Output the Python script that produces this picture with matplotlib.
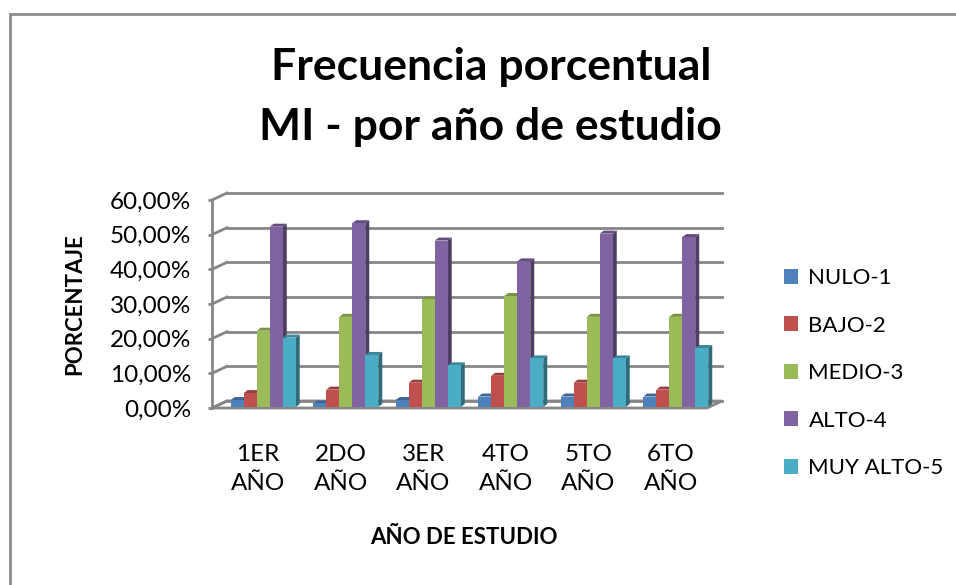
import numpy as np
import matplotlib
matplotlib.use("Agg")
import matplotlib.pyplot as plt
from matplotlib.patches import Polygon, Patch, Rectangle
from matplotlib.colors import to_rgb

plt.rcParams['font.family'] = ['Lato', 'DejaVu Sans']

# data (percent)
years = ["1ER\nAÑO", "2DO\nAÑO", "3ER\nAÑO", "4TO\nAÑO", "5TO\nAÑO", "6TO\nAÑO"]
levels = ["NULO-1", "BAJO-2", "MEDIO-3", "ALTO-4", "MUY ALTO-5"]
nulo = [2, 1, 2, 3, 3, 3]
bajo = [4, 5, 7, 9, 7, 5]
medio = [22, 26, 31, 32, 26, 26]
alto = [52, 53, 48, 42, 50, 49]
muy_alto = [20, 15, 12, 14, 14, 17]
colors = ["#4F81BD", "#C0504D", "#9BBB59", "#8064A2", "#4BACC6"]

series = [nulo, bajo, medio, alto, muy_alto]

W, H = 956, 585
fig = plt.figure(figsize=(W / 100, H / 100), dpi=100)

# outer chart border (cropped on right/bottom)
fig.patches.append(Rectangle((10 / W, -0.1), 1.2, 1.1 - 14 / H, transform=fig.transFigure,
                             fill=False, edgecolor="#8c8c8c", linewidth=2, zorder=0))

x0, x1 = 212, 707
yb, yt = 408, 200
ax = fig.add_axes([x0 / W, 1 - yb / H, (x1 - x0) / W, (yb - yt) / H])
ax.set_xlim(-0.5, 5.5)
ax.set_ylim(0, 60)
ax.set_facecolor("none")

ux = (x1 - x0) / 6.0       # px per category
uy = (yb - yt) / 60.0      # px per percent
dx, dy = 15 / ux, 7 / uy   # depth of the box
grid_c = "#868686"

# floor
floor = Polygon([(-0.5, 0), (5.5, 0), (5.5 + dx, dy), (-0.5 + dx, dy)], closed=True,
                facecolor="white", edgecolor=grid_c, linewidth=2, clip_on=False, zorder=1)
ax.add_patch(floor)

# back wall gridlines + side wall lines
for v in range(0, 61, 10):
    ax.plot([-0.5 + dx, 5.5 + dx], [v + dy, v + dy], color=grid_c, lw=2, clip_on=False, zorder=1)
    ax.plot([-0.5, -0.5 + dx], [v, v + dy], color=grid_c, lw=2, clip_on=False, zorder=1)

# bars
bw = 13 / ux
sdx, sdy = 4 / ux, 3 / uy
shift = 10 / ux
base = 0.3
xs = np.arange(len(years))


def shade(c, f):
    r, g, b = to_rgb(c)
    return (r * f, g * f, b * f)


for k, (vals, col) in enumerate(zip(series, colors)):
    xc = xs + shift + (k - 2) * bw
    z = 3 + k
    ax.bar(xc, vals, width=bw, bottom=base, color=col, edgecolor="none", zorder=z + 0.5, clip_on=False)
    for xi, h in zip(xc, vals):
        top = base + h
        side = Polygon([(xi + bw / 2, base), (xi + bw / 2, top), (xi + bw / 2 + sdx, top + sdy),
                        (xi + bw / 2 + sdx, base + sdy)], closed=True,
                       facecolor=shade(col, 0.62), edgecolor="none", clip_on=False, zorder=z)
        cap = Polygon([(xi - bw / 2, top), (xi + bw / 2, top), (xi + bw / 2 + sdx, top + sdy),
                       (xi - bw / 2 + sdx, top + sdy)], closed=True,
                      facecolor=shade(col, 0.78), edgecolor="none", clip_on=False, zorder=z)
        ax.add_patch(side)
        ax.add_patch(cap)

# axes styling
for s in ["top", "right", "bottom"]:
    ax.spines[s].set_visible(False)
ax.spines["left"].set_color(grid_c)
ax.spines["left"].set_linewidth(2)
ax.spines["left"].set_zorder(2)

ax.set_yticks(range(0, 61, 10))
ax.set_yticklabels([f"{v:.2f}%".replace(".", ",") for v in range(0, 61, 10)], fontsize=17.5)
ax.tick_params(axis="y", length=3, color=grid_c, width=2, pad=12)
ax.set_xticks(xs + 0.06)
ax.set_xticklabels(years, fontsize=17.5, linespacing=1.45)
ax.tick_params(axis="x", length=0, pad=26)

ax.set_ylabel("PORCENTAJE", fontsize=16, fontweight="bold", va="center")
ax.yaxis.set_label_coords((75 - x0) / (x1 - x0), (yb - 304) / (yb - yt))
ax.set_xlabel("AÑO DE ESTUDIO", fontsize=16, fontweight="bold", va="center")
ax.xaxis.set_label_coords((464 - x0) / (x1 - x0), (yb - 537) / (yb - yt))

fig.text(491 / W, 1 - 67 / H, "Frecuencia porcentual", ha="center", va="center",
         fontsize=32, fontweight="bold")
fig.text(490 / W, 1 - 127 / H, "MI - por año de estudio", ha="center", va="center",
         fontsize=32, fontweight="bold")

handles = [Patch(facecolor=c, edgecolor="none") for c in colors]
fig.legend(handles, levels, loc="upper left", bbox_to_anchor=(784 / W, 1 - 268 / H),
           frameon=False, fontsize=16, handlelength=0.65, handleheight=0.65,
           handletextpad=0.45, labelspacing=1.24, borderpad=0, borderaxespad=0)

fig.savefig("out.png", dpi=100)
